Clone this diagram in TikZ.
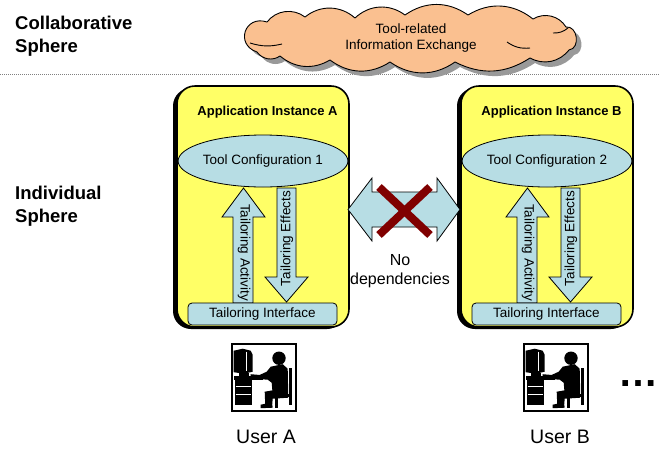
\documentclass[tikz,border=0pt]{standalone}
\usepackage{fontspec}
\setmainfont{Liberation Sans}
\usetikzlibrary{shapes.geometric,shadows}
\definecolor{appyellow}{RGB}{255,255,102}
\definecolor{lblue}{RGB}{183,221,228}
\definecolor{cloudfill}{RGB}{250,192,144}
\definecolor{xred}{RGB}{128,0,0}
\newcommand\fsz[2]{\fontsize{#1}{#2}\selectfont}
\newcommand\cloudoutline{(257,52) to[bend left=90, looseness=1.9] (267,22)
  to[bend left=45] (305,17) to[bend left=40] (355,18) to[bend left=40] (405,15)
  to[bend left=35] (468,15) to[bend left=35] (533,19) to[bend left=45] (566,27)
  to[bend left=90, looseness=1.3] (569,50) to[bend left=40] (530,58)
  to[bend left=30] (455,62) to[bend left=35] (390,62) to[bend left=35] (330,60)
  to[bend left=35] (280,56) to[bend left=45] (257,52) -- cycle}
\begin{document}
\begin{tikzpicture}[x=1pt,y=-1pt,
  sphere/.style={font=\fsz{18.5}{22.5}\bfseries, align=left, inner sep=0, anchor=north west},
  lbl/.style={font=\fsz{13.5}{16}, inner sep=0},
  titletext/.style={font=\fsz{13}{16}\bfseries, inner sep=0, anchor=base},
  appbox/.style={draw=black, line width=1.6pt, fill=appyellow, rounded corners=18pt,
    inner sep=0, drop shadow={shadow xshift=-4pt, shadow yshift=-2pt, fill=black, opacity=1}},
  conf/.style={ellipse, draw=black, line width=0.8pt, fill=lblue, inner sep=0,
    minimum width=128, minimum height=52, font=\fsz{13.5}{16}},
  iface/.style={rectangle, draw=black, line width=0.8pt, fill=lblue, rounded corners=4pt,
    minimum width=149, minimum height=22, inner sep=0, font=\fsz{13.5}{16}},
  blockarrow/.style={draw=black, line width=0.8pt, fill=lblue, line join=miter},
  cloudline/.style={draw=black, line width=0.9pt, fill=cloudfill, line join=round},
  cloudshadow/.style={fill=gray!80, xshift=5pt, yshift=-5pt},
  cloudtext/.style={align=center, font=\fsz{13.5}{16}, inner sep=0},
  sep/.style={draw=gray, line width=1.6pt, dash pattern=on 1pt off 1pt},
  iconframe/.style={draw=black, line width=2.6pt, fill=white, minimum width=64,
    minimum height=67, inner sep=0},
  usericon/.pic={
    % monitor
    \fill (4,9) -- (13,7) -- (21,9) -- (23,13) -- (23,30) -- (14,32) -- (4,30.5) -- cycle;
    \draw[white, line width=0.6pt] (17,10) -- (17,29.5);
    \fill (9,31) rectangle (19,34);
    % desk
    \fill (4,34.5) rectangle (33,38);
    \fill (5,38) rectangle (22.5,63.5);
    \draw[white, line width=0.6pt] (6,45) -- (21.5,45) (6,53) -- (21.5,53);
    % keyboard
    \fill (21,32.5) -- (33,33.5) -- (33,35) -- (21,34.5) -- cycle;
    % chair
    \fill (59.5,26) rectangle (62.5,63.5);
    \fill (44,52) rectangle (62.5,55.5);
    \fill (45.5,55.5) rectangle (48,66);
    % person
    \fill (49.3,16.5) circle (6.7);
    \fill (41,25) -- (53,22.5) -- (58,27) -- (58.5,52) -- (43,53) -- (42,41) -- (38,38)
      -- (31,37.5) -- (30.5,33) -- (37,30) -- cycle;
    \draw[white, line width=0.6pt] (44,53.5) -- (58.5,53.5);
    \fill (58,46) -- (58.5,56) -- (43,57) -- (42.5,63) -- (43,66) -- (31,66.5) -- (31,63)
      -- (35.5,62) -- (35,50) -- cycle;
  }]
\useasboundingbox (0,0) rectangle (659,448);

% spheres
\node[sphere] (collab) at (15,16) {Collaborative\\Sphere};
\node[sphere] (indiv) at (15,186) {Individual\\Sphere};
\draw[sep] (0,74.5) -- (659,74.5);

% cloud
\path[cloudshadow] \cloudoutline;
\path[cloudline] \cloudoutline;
\draw[line width=0.9pt] (250,43) to[bend right=15] (282,44)
  (507,42) to[bend right=20] (530,48) (553,33) to[bend right=20] (568,28);
\node[cloudtext] (cloud) at (411,38.5) {Tool-related\\Information Exchange};

% application instances
\foreach \n/\dx/\k in {A/0/1,B/284/2}{
\begin{scope}[xshift=\dx pt]
  \node[appbox, minimum width=172, minimum height=241] (box\n) at (263,206.5) {};
  \node[titletext] (title\n) at (267.5,115) {Application Instance \n};
  \node[conf] (conf\n) at (263,161) {Tool Configuration \k};
  \draw[blockarrow] (233,303) -- (233,217) -- (222,217) -- (243.5,188) -- (265,217)
    -- (253,217) -- (253,303) -- cycle;
  \draw[blockarrow] (277,188) -- (277,277) -- (265,277) -- (286.5,302) -- (308,277)
    -- (296,277) -- (296,188) -- cycle;
  \node[lbl, rotate=-90] (act\n) at (244,252.5) {Tailoring Activity};
  \node[lbl, rotate=90] (eff\n) at (287,238.5) {Tailoring Effects};
  \node[iface] (if\n) at (262.5,314) {Tailoring Interface};
\end{scope}
}

% no dependencies
\draw[blockarrow] (348,209.5) -- (372,178) -- (372,192) -- (437,192) -- (437,178)
  -- (460,209.5) -- (437,241) -- (437,227) -- (372,227) -- (372,241) -- cycle;
\draw[xred, line width=8pt] (379,187) -- (430,235) (379,235) -- (430,187);
\node[font=\fsz{16}{19}, align=center, inner sep=0, anchor=north] (nodep) at (400,254.5)
  {No\\dependencies};

% users
\node[iconframe] (iconA) at (264,377.5) {};
\pic at ([xshift=-1pt,yshift=1pt]iconA.north west) {usericon};
\node[iconframe] (iconB) at (556,377.5) {};
\pic at ([xshift=-1pt,yshift=1pt]iconB.north west) {usericon};
\node[font=\fsz{19.5}{22}, inner sep=0, anchor=base] (userA) at (266,443) {User A};
\node[font=\fsz{19.5}{22}, inner sep=0, anchor=base] (userB) at (560,443) {User B};
\node[font=\fsz{40}{40}\bfseries, inner sep=0, anchor=base] (more) at (638.5,386) {…};
\end{tikzpicture}
\end{document}
